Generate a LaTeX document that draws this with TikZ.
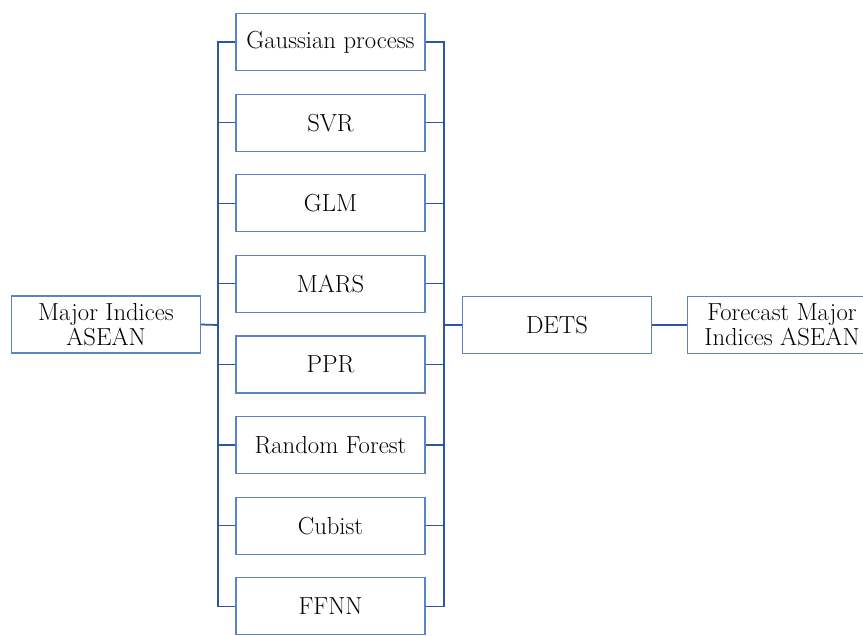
\documentclass[tikz,border=0pt]{standalone}
\usetikzlibrary{positioning}
\definecolor{boxblue}{HTML}{5B84C8}
\definecolor{lineblue}{HTML}{2F55A0}
\begin{document}
\begin{tikzpicture}[
        x=0.75pt, y=-0.75pt,
        % 方框樣式:淺藍框、白底
        block/.style={
            rectangle,
            draw=boxblue,
            fill=white,
            line width=0.9pt,
            minimum width=141.75pt, % 方框寬度
            minimum height=42.75pt, % 方框高度
            inner sep=1pt,
            align=center,
            font=\fontsize{18.5}{19}\selectfont
        },
        % 連線樣式
        link/.style={
            draw=lineblue,
            line width=0.8pt
        },
        % 主幹連線(較粗)
        trunk/.style={
            draw=lineblue,
            line width=1.3pt
        },
        node distance=16.8pt
    ]
    \useasboundingbox (0,0) rectangle (863,635);

    % --- 左邊輸入 ---
    \node[block] (in) at (106,324.5) {Major Indices\\ASEAN};

    % --- 中間模型欄 ---
    \node[block] (m1) at (330.5,42) {Gaussian process};
    \node[block, below=of m1] (m2) {SVR};
    \node[block, below=of m2] (m3) {GLM};
    \node[block, below=of m3] (m4) {MARS};
    \node[block, below=of m4] (m5) {PPR};
    \node[block, below=of m5] (m6) {Random Forest};
    \node[block, below=of m6] (m7) {Cubist};
    \node[block, below=of m7] (m8) {FFNN};

    % --- 右邊 DETS 與輸出 ---
    \node[block] (dets) at (557,325) {DETS};
    \node[block] (out) at (782,325) {Forecast Major\\Indices ASEAN};

    % 匯流點
    \coordinate (jl) at (218,325);
    \coordinate (jr) at (444,325);

    % --- 左匯流線 ---
    \draw[link] (m1.west) -- (jl |- m1.west) -- (jl |- m8.west) -- (m8.west);
    \draw[link] (m2.west) -- (jl |- m2.west);
    \draw[link] (m3.west) -- (jl |- m3.west);
    \draw[link] (m4.west) -- (jl |- m4.west);
    \draw[link] (m5.west) -- (jl |- m5.west);
    \draw[link] (m6.west) -- (jl |- m6.west);
    \draw[link] (m7.west) -- (jl |- m7.west);

    % --- 右匯流線 ---
    \draw[link] (m1.east) -- (jr |- m1.east) -- (jr |- m8.east) -- (m8.east);
    \draw[link] (m2.east) -- (jr |- m2.east);
    \draw[link] (m3.east) -- (jr |- m3.east);
    \draw[link] (m4.east) -- (jr |- m4.east);
    \draw[link] (m5.east) -- (jr |- m5.east);
    \draw[link] (m6.east) -- (jr |- m6.east);
    \draw[link] (m7.east) -- (jr |- m7.east);

    % --- 主幹 ---
    \draw[trunk] (in.east) -- (jl);
    \draw[trunk] (jr) -- (dets.west);
    \draw[trunk] (dets.east) -- (out.west);
\end{tikzpicture}
\end{document}
